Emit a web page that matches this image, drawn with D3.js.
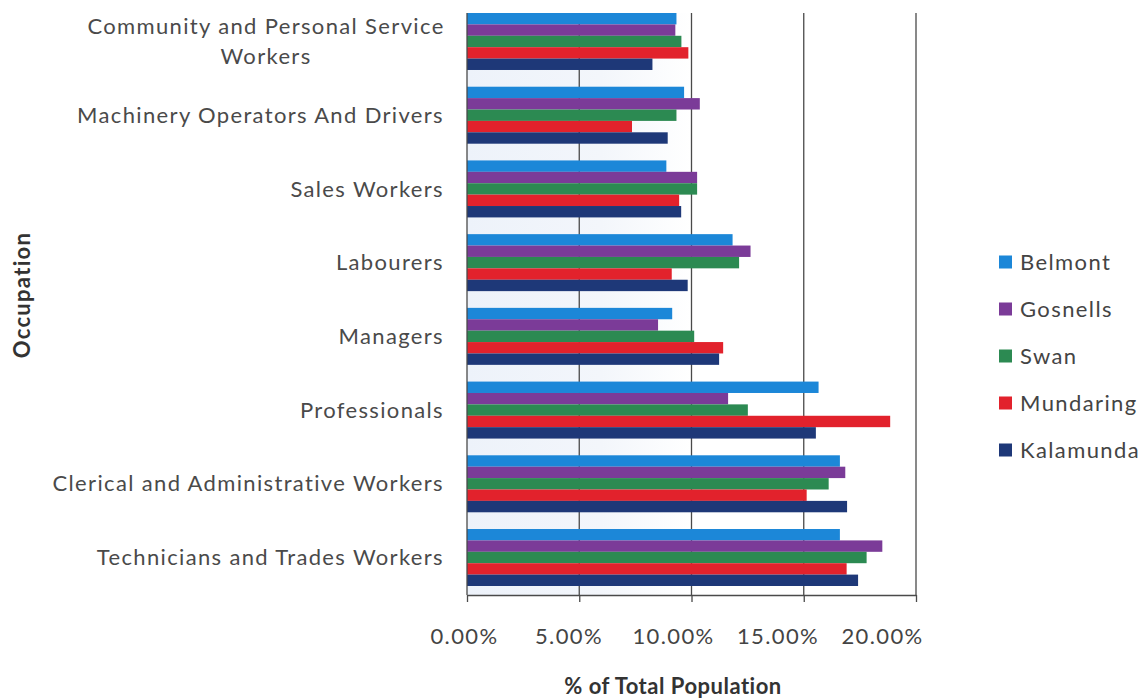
<!DOCTYPE html>
<html>
<head>
<meta charset="utf-8">
<script src="https://cdn.jsdelivr.net/npm/d3@7/dist/d3.min.js"></script>
<style>
  html, body { margin: 0; padding: 0; background: #fff; }
  svg { display: block; font-family: Lato, "Open Sans", sans-serif; }
</style>
</head>
<body>
<svg id="chart" width="1146" height="698"></svg>
<script>
// Occupations, drawn top to bottom
const occupations = [
  "Community and Personal Service Workers",
  "Machinery Operators And Drivers",
  "Sales Workers",
  "Labourers",
  "Managers",
  "Professionals",
  "Clerical and Administrative Workers",
  "Technicians and Trades Workers"
];

// Share of total population (%) for each area, in occupation order
const belmont   = [9.33, 9.67, 8.88, 11.83,  9.14, 15.66, 16.61, 16.61];
const gosnells  = [9.28, 10.37, 10.25, 12.63, 8.51, 11.63, 16.85, 18.50];
const swan      = [9.55, 9.33, 10.25, 12.12, 10.12, 12.51, 16.11, 17.80];
const mundaring = [9.86, 7.35, 9.45, 9.12, 11.41, 18.85, 15.13, 16.91];
const kalamunda = [8.26, 8.94, 9.54, 9.83, 11.23, 15.54, 16.93, 17.42];

const seriesNames = ["Belmont", "Gosnells", "Swan", "Mundaring", "Kalamunda"];
const seriesValues = [belmont, gosnells, swan, mundaring, kalamunda];
const seriesColors = ["#1c87d8", "#7b3b98", "#2c8a52", "#e2222c", "#1e3878"];

const xTicks = [0, 5, 10, 15, 20];

const svg = d3.select("#chart");

const plot = { left: 467, right: 916, top: 13, bottom: 595 };

const x = d3.scaleLinear().domain([0, 20]).range([plot.left, plot.right]);
// tick labels sit on a slightly narrower spread than the gridlines
const xLabel = d3.scaleLinear().domain([0, 20]).range([464, 882]);

const y = d3.scaleBand().domain(occupations).range([plot.top, 586]).paddingInner(0.227).paddingOuter(0);
const yInner = d3.scaleBand().domain(seriesNames).range([0, y.bandwidth()]);

// faint tint on the left of the plot area
const defs = svg.append("defs");
const grad = defs.append("linearGradient").attr("id", "tint").attr("x1", 0).attr("x2", 1).attr("y1", 0).attr("y2", 0);
grad.append("stop").attr("offset", 0).attr("stop-color", "#edf2fa");
grad.append("stop").attr("offset", 0.6).attr("stop-color", "#f3f6fb");
grad.append("stop").attr("offset", 1).attr("stop-color", "#ffffff");
svg.append("rect")
  .attr("x", plot.left).attr("y", plot.top)
  .attr("width", x(10) - plot.left).attr("height", plot.bottom - plot.top)
  .attr("fill", "url(#tint)");

// vertical gridlines
svg.append("g")
  .selectAll("line")
  .data(xTicks.slice(1))
  .join("line")
  .attr("x1", d => x(d)).attr("x2", d => x(d))
  .attr("y1", plot.top).attr("y2", plot.bottom)
  .attr("stroke", "#4a4a4a").attr("stroke-width", 1.3);

// bars
const groups = svg.append("g")
  .selectAll("g")
  .data(occupations)
  .join("g")
  .attr("transform", d => `translate(0,${y(d)})`);

groups.selectAll("rect")
  .data((d, i) => seriesNames.map((s, k) => ({ s, v: seriesValues[k][i], c: seriesColors[k] })))
  .join("rect")
  .attr("x", x(0))
  .attr("y", d => yInner(d.s))
  .attr("width", d => x(d.v) - x(0))
  .attr("height", yInner.bandwidth())
  .attr("fill", d => d.c);

// left axis line
svg.append("line")
  .attr("x1", plot.left).attr("x2", plot.left)
  .attr("y1", plot.top).attr("y2", plot.bottom)
  .attr("stroke", "#4a4a4a").attr("stroke-width", 1.3);

// bottom axis line with ticks
const xAxis = svg.append("g")
  .attr("transform", `translate(0,${plot.bottom})`)
  .call(d3.axisBottom(x).tickValues(xTicks).tickSize(7).tickFormat("").tickSizeOuter(0));
xAxis.select(".domain").attr("stroke", "#4a4a4a").attr("stroke-width", 1.3);
xAxis.selectAll(".tick line").attr("stroke", "#4a4a4a").attr("stroke-width", 1.3);

// tick labels
const xLab = svg.append("g")
  .attr("transform", `translate(0,${plot.bottom})`)
  .call(d3.axisBottom(xLabel).tickValues(xTicks).tickSize(0).tickPadding(33)
    .tickFormat(d => d.toFixed(2) + "%"));
xLab.select(".domain").remove();
xLab.selectAll("text")
  .attr("font-family", "Lato, sans-serif")
  .attr("font-size", 22)
  .attr("letter-spacing", 1.4)
  .attr("fill", "#444");

// category labels
const catLabels = svg.append("g");
occupations.forEach(name => {
  const cy = y(name) + y.bandwidth() / 2;
  let lines = [name];
  if (name === "Community and Personal Service Workers") {
    lines = ["Community and Personal Service", "Workers"];
  }
  const t = catLabels.append("text")
    .attr("font-size", 22)
    .attr("letter-spacing", 1.35)
    .attr("fill", "#4a4a4a")
    .attr("text-anchor", lines.length > 1 ? "middle" : "end");
  if (lines.length > 1) {
    const cx = 266;
    lines.forEach((ln, i) => {
      t.append("tspan")
        .attr("x", cx)
        .attr("y", cy + (i - (lines.length - 1) / 2) * 30)
        .attr("dy", "0.35em")
        .text(ln);
    });
  } else {
    t.attr("x", 444).attr("y", cy).attr("dy", "0.35em").text(name);
  }
});

// axis titles
svg.append("text")
  .attr("transform", "translate(22,295) rotate(-90)")
  .attr("text-anchor", "middle")
  .attr("dy", "0.35em")
  .attr("font-size", 22)
  .attr("font-weight", 700)
  .attr("letter-spacing", 1.3)
  .attr("fill", "#333")
  .text("Occupation");

svg.append("text")
  .attr("x", 673)
  .attr("y", 686)
  .attr("text-anchor", "middle")
  .attr("dy", "0.35em")
  .attr("font-size", 22)
  .attr("font-weight", 700)
  .attr("letter-spacing", 0.5)
  .attr("fill", "#333")
  .text("% of Total Population");

// legend
const legend = svg.append("g");
seriesNames.forEach((s, i) => {
  const cy = 262 + i * 47;
  legend.append("rect")
    .attr("x", 999).attr("y", cy - 6.5)
    .attr("width", 13).attr("height", 13)
    .attr("fill", seriesColors[i]);
  legend.append("text")
    .attr("x", 1020).attr("y", cy)
    .attr("dy", "0.35em")
    .attr("font-size", 22)
    .attr("letter-spacing", 1.4)
    .attr("fill", "#444")
    .text(s);
});
</script>
</body>
</html>
